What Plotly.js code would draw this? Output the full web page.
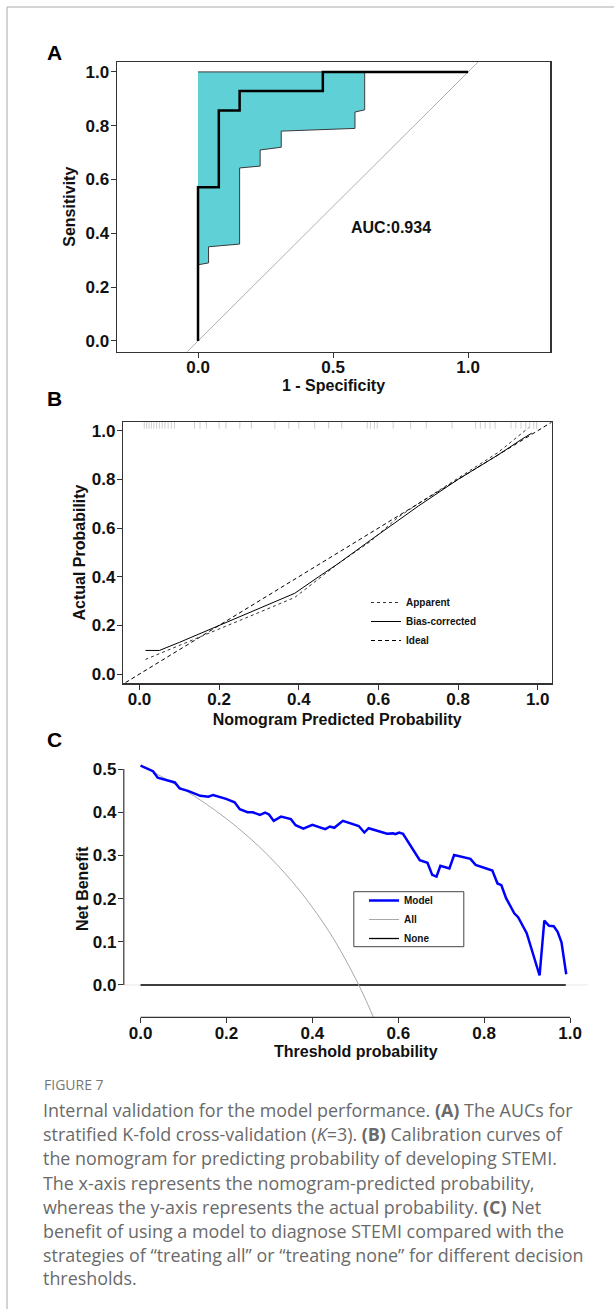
<!DOCTYPE html>
<html><head><meta charset="utf-8">
<script src="https://cdn.plot.ly/plotly-3.0.1.min.js"></script>
<style>html,body{margin:0;padding:0;background:#fff}#chart{width:614px;height:1309px}</style>
</head><body><div id="chart"></div>
<script>
// ---------- Panel A: ROC ----------
const rocX = [0, 0, 0.077, 0.077, 0.154, 0.154, 0.462, 0.462, 1.0];
const rocY = [0, 0.571, 0.571, 0.857, 0.857, 0.929, 0.929, 1.0, 1.0];
const bandLowerX = [0, 0.039, 0.039, 0.154, 0.154, 0.23, 0.23, 0.308, 0.308, 0.581, 0.581, 0.617, 0.617];
const bandLowerY = [0.283, 0.29, 0.35, 0.36, 0.643, 0.65, 0.71, 0.72, 0.78, 0.79, 0.851, 0.859, 1.0];
const bandUpperX = [0.617, 0];
const bandUpperY = [1.0, 1.0];
const diagX = [-0.04, 1.04];
const diagY = [-0.04, 1.04];
const aucLabel = 'AUC:0.934';
const aucPos = [0.715, 0.42];
const aTicksX = [0, 0.5, 1.0];
const aTicksY = [0, 0.2, 0.4, 0.6, 0.8, 1.0];

// ---------- Panel B: calibration ----------
const apparentX = [0.015, 0.1, 0.2, 0.3, 0.39, 0.45, 0.5, 0.58, 0.62, 0.65, 0.7, 0.8, 0.9, 0.977];
const apparentY = [0.06, 0.117, 0.185, 0.253, 0.315, 0.39, 0.455, 0.545, 0.6, 0.645, 0.7, 0.805, 0.91, 1.012];
const biasX = [0.015, 0.05, 0.1, 0.2, 0.3, 0.35, 0.39, 0.45, 0.5, 0.58, 0.65, 0.7, 0.8, 0.9, 0.96, 0.985];
const biasY = [0.097, 0.097, 0.13, 0.2, 0.27, 0.305, 0.332, 0.4, 0.455, 0.55, 0.633, 0.69, 0.8, 0.9, 0.965, 0.99];
const idealX = [-0.05, 1.05];
const idealY = [-0.05, 1.05];
const rugX = [0.012, 0.018, 0.024, 0.03, 0.036, 0.043, 0.05, 0.057, 0.064, 0.072, 0.08, 0.088,
  0.138, 0.152, 0.168, 0.2, 0.217, 0.252, 0.281, 0.34, 0.375, 0.40, 0.44, 0.475, 0.508,
  0.572, 0.58, 0.59, 0.597, 0.637, 0.681, 0.72, 0.785, 0.844, 0.856, 0.868, 0.88, 0.893,
  0.933, 0.945, 0.958, 0.97, 0.98, 0.99, 0.997];
const bTicks = [0, 0.2, 0.4, 0.6, 0.8, 1.0];

// ---------- Panel C: decision curve ----------
const modelX = [0, 0.029, 0.040, 0.080, 0.091, 0.112, 0.139, 0.158, 0.169, 0.199, 0.219, 0.231, 0.249, 0.261,
  0.278, 0.290, 0.299, 0.310, 0.327, 0.350, 0.361, 0.379, 0.400, 0.430, 0.441, 0.451, 0.471, 0.508,
  0.521, 0.531, 0.574, 0.588, 0.593, 0.602, 0.611, 0.650, 0.668, 0.679, 0.689, 0.698, 0.719, 0.730,
  0.768, 0.780, 0.819, 0.831, 0.840, 0.851, 0.870, 0.879, 0.899, 0.929, 0.940, 0.951, 0.962, 0.971,
  0.980, 0.991];
const modelY = [0.508, 0.495, 0.480, 0.469, 0.455, 0.449, 0.438, 0.436, 0.440, 0.431, 0.423, 0.407, 0.400, 0.400,
  0.394, 0.399, 0.395, 0.380, 0.390, 0.384, 0.370, 0.362, 0.371, 0.361, 0.367, 0.364, 0.380, 0.368,
  0.353, 0.363, 0.350, 0.351, 0.349, 0.353, 0.350, 0.289, 0.283, 0.255, 0.251, 0.276, 0.270, 0.301,
  0.292, 0.278, 0.265, 0.235, 0.231, 0.201, 0.166, 0.157, 0.120, 0.022, 0.149, 0.137, 0.136, 0.123,
  0.099, 0.025];
const allX = [0, 0.05, 0.1, 0.15, 0.2, 0.25, 0.3, 0.35, 0.4, 0.45, 0.5, 0.525, 0.55];
const allY = [0.508, 0.482, 0.453, 0.421, 0.385, 0.344, 0.297, 0.243, 0.180, 0.106, 0.016, -0.036, -0.093];
const noneX = [0, 0.99];
const noneY = [0, 0];
const cTicksX = [0, 0.2, 0.4, 0.6, 0.8, 1.0];
const cTicksY = [0, 0.1, 0.2, 0.3, 0.4, 0.5];

// ---------- Caption ----------
const figureLabel = 'FIGURE 7';
const captionLines = [
  'Internal validation for the model performance. <b>(A)</b> The AUCs for',
  'stratified K-fold cross-validation (<i>K</i>=3). <b>(B)</b> Calibration curves of',
  'the nomogram for predicting probability of developing STEMI.',
  'The x-axis represents the nomogram-predicted probability,',
  'whereas the y-axis represents the actual probability. <b>(C)</b> Net',
  'benefit of using a model to diagnose STEMI compared with the',
  'strategies of \u201ctreating all\u201d or \u201ctreating none\u201d for different decision',
  'thresholds.'
];

// ---------- layout helpers ----------
const W = 614, H = 1309;
const px = v => v / W;
const py = v => 1 - v / H;
const FONT = '"Liberation Sans", Arial, Helvetica, sans-serif';
const CAPFONT = '"Open Sans", "Noto Sans", sans-serif';
const fmt1 = a => a.map(v => v.toFixed(1));
const tickFont = {family: FONT, size: 17, weight: 'bold', color: '#111'};
const titleFont = {family: FONT, size: 16, weight: 'bold', color: '#111'};
const letterFont = {family: FONT, size: 21, weight: 'bold', color: '#000'};

const traces = [
  // A
  {x: bandLowerX.concat(bandUpperX), y: bandLowerY.concat(bandUpperY), type: 'scatter', mode: 'lines',
   fill: 'toself', fillcolor: '#5ED0D6', line: {color: '#3a3a3a', width: 1}, xaxis: 'x', yaxis: 'y',
   showlegend: false, hoverinfo: 'skip'},
  {x: diagX, y: diagY, type: 'scatter', mode: 'lines', line: {color: '#b0b0b0', width: 1},
   xaxis: 'x', yaxis: 'y', showlegend: false},
  {x: rocX, y: rocY, type: 'scatter', mode: 'lines', line: {color: '#000', width: 2.5},
   xaxis: 'x', yaxis: 'y', showlegend: false},
  // B
  {x: rugX, y: rugX.map(() => 1.037), type: 'scatter', mode: 'markers',
   marker: {symbol: 'line-ns-open', size: 10, color: '#cfcfcf', line: {color: '#cfcfcf', width: 1}},
   xaxis: 'x2', yaxis: 'y2', showlegend: false},
  {x: apparentX, y: apparentY, name: 'Apparent', type: 'scatter', mode: 'lines',
   line: {color: '#333', width: 1, dash: 'dot'}, xaxis: 'x2', yaxis: 'y2', legend: 'legend'},
  {x: biasX, y: biasY, name: 'Bias-corrected', type: 'scatter', mode: 'lines',
   line: {color: '#000', width: 1}, xaxis: 'x2', yaxis: 'y2', legend: 'legend'},
  {x: idealX, y: idealY, name: 'Ideal', type: 'scatter', mode: 'lines',
   line: {color: '#000', width: 1, dash: '4px,3px'}, xaxis: 'x2', yaxis: 'y2', legend: 'legend'},
  // C
  {x: noneX, y: noneY, name: 'None', type: 'scatter', mode: 'lines', line: {color: '#000', width: 1.3},
   xaxis: 'x3', yaxis: 'y3', legend: 'legend2', legendrank: 3},
  {x: allX, y: allY, name: 'All', type: 'scatter', mode: 'lines', line: {color: '#a8a8a8', width: 1, shape: 'spline'},
   xaxis: 'x3', yaxis: 'y3', legend: 'legend2', legendrank: 2},
  {x: modelX, y: modelY, name: 'Model', type: 'scatter', mode: 'lines', line: {color: '#0000FF', width: 2.5},
   xaxis: 'x3', yaxis: 'y3', legend: 'legend2', legendrank: 1}
];

const boxAxis = {showline: true, mirror: true, linecolor: '#333', linewidth: 1.2, ticks: 'outside',
  ticklen: 5, tickwidth: 1, tickcolor: '#333', showgrid: false, zeroline: false, tickfont: tickFont};

const annotations = [
  {text: 'A', x: px(54.6), y: py(52), xref: 'paper', yref: 'paper', xanchor: 'center', yanchor: 'middle', showarrow: false, font: letterFont},
  {text: 'B', x: px(54.6), y: py(398), xref: 'paper', yref: 'paper', xanchor: 'center', yanchor: 'middle', showarrow: false, font: letterFont},
  {text: 'C', x: px(54.6), y: py(739), xref: 'paper', yref: 'paper', xanchor: 'center', yanchor: 'middle', showarrow: false, font: letterFont},
  {text: aucLabel, x: aucPos[0], y: aucPos[1], xref: 'x', yref: 'y', xanchor: 'center', yanchor: 'middle', showarrow: false,
   font: {family: FONT, size: 16, weight: 'bold', color: '#111'}},
  {text: figureLabel, x: px(42), y: py(1084), xref: 'paper', yref: 'paper', xanchor: 'left', yanchor: 'middle',
   showarrow: false, font: {family: CAPFONT, size: 14, color: '#777'}}
];
const capY = [1110, 1134, 1158, 1183, 1207, 1231, 1255, 1278];
captionLines.forEach((t, i) => annotations.push({text: t, x: px(41), y: py(capY[i]), xref: 'paper', yref: 'paper',
  xanchor: 'left', yanchor: 'middle', showarrow: false, font: {family: CAPFONT, size: 17.9, color: '#6a6a6a'}}));

const layout = {
  width: W, height: H, margin: {l: 0, r: 0, t: 0, b: 0}, paper_bgcolor: '#fff', plot_bgcolor: '#fff',
  showlegend: true,
  xaxis: Object.assign({}, boxAxis, {domain: [px(116.7), px(550.3)], range: [-0.301, 1.304], anchor: 'y',
    ticklabelstandoff: -5,
    tickvals: aTicksX, ticktext: fmt1(aTicksX), title: {text: '1 - Specificity', font: titleFont, standoff: 2}}),
  yaxis: Object.assign({}, boxAxis, {domain: [py(351.7), py(61.7)], range: [-0.04, 1.038], anchor: 'x',
    ticklabelstandoff: -2,
    tickvals: aTicksY, ticktext: fmt1(aTicksY), title: {text: 'Sensitivity', font: titleFont, standoff: 5}}),
  xaxis2: Object.assign({}, boxAxis, {domain: [px(123), px(551.5)], range: [-0.0414, 1.0346], anchor: 'y2',
    ticklabelstandoff: -5,
    tickvals: bTicks, ticktext: fmt1(bTicks), title: {text: 'Nomogram Predicted Probability', font: titleFont, standoff: 5}}),
  yaxis2: Object.assign({}, boxAxis, {domain: [py(683.3), py(421.7)], range: [-0.038, 1.037], anchor: 'x2',
    ticklabelstandoff: -2,
    tickvals: bTicks, ticktext: fmt1(bTicks), title: {text: 'Actual Probability', font: titleFont, standoff: 2}}),
  xaxis3: {domain: [px(123.8), px(587.7)], range: [-0.039, 1.041], anchor: 'y3', showline: false, showgrid: false,
    zeroline: false, ticks: 'outside', ticklen: 5, tickwidth: 1, tickcolor: '#333', tickfont: tickFont,
    ticklabelstandoff: -5,
    tickvals: cTicksX, ticktext: fmt1(cTicksX), title: {text: 'Threshold probability', font: titleFont, standoff: 0}},
  yaxis3: {domain: [py(1017.3), py(760.4)], range: [-0.0748, 0.52], anchor: 'x3', showline: false, showgrid: false,
    zeroline: false, ticks: 'outside', ticklen: 5, tickwidth: 1, tickcolor: '#333', tickfont: tickFont,
    ticklabelstandoff: -2,
    tickvals: cTicksY, ticktext: fmt1(cTicksY), title: {text: 'Net Benefit', font: titleFont, standoff: 0}},
  legend: {x: px(366), y: py(588), xanchor: 'left', yanchor: 'top', bgcolor: 'rgba(0,0,0,0)', borderwidth: 0,
    font: {family: FONT, size: 10, weight: 'bold', color: '#111'}, tracegroupgap: 0, itemwidth: 30},
  legend2: {x: px(364), y: py(886), xanchor: 'left', yanchor: 'top', bgcolor: 'rgba(0,0,0,0)', borderwidth: 0,
    font: {family: FONT, size: 10, weight: 'bold', color: '#111'}, tracegroupgap: 0, itemwidth: 30},
  shapes: [
    {type: 'line', xref: 'paper', yref: 'paper', x0: px(7), x1: px(7), y0: py(7), y1: 0, line: {color: '#aaa', width: 1}},
    {type: 'line', xref: 'paper', yref: 'paper', x0: px(7), x1: 1, y0: py(7), y1: py(7), line: {color: '#aaa', width: 1}},
    {type: 'line', xref: 'x3 domain', yref: 'y3', x0: 0, x1: 1, y0: 0, y1: 0, layer: 'below', line: {color: '#e6e6e6', width: 1}},
    {type: 'line', xref: 'paper', yref: 'y3', x0: px(123.8), x1: px(123.8), y0: 0, y1: 0.5, line: {color: '#333', width: 1.2}},
    {type: 'line', xref: 'x3', yref: 'paper', x0: 0, x1: 1, y0: py(1017.3), y1: py(1017.3), line: {color: '#333', width: 1.2}},
    {type: 'rect', xref: 'paper', yref: 'paper', x0: px(353.8), x1: px(463.8), y0: py(946.7), y1: py(891.7),
     layer: 'above', fillcolor: '#fff', line: {color: '#444', width: 1}}
  ],
  annotations: annotations
};

Plotly.newPlot('chart', traces, layout, {displayModeBar: false, staticPlot: true});
</script></body></html>
